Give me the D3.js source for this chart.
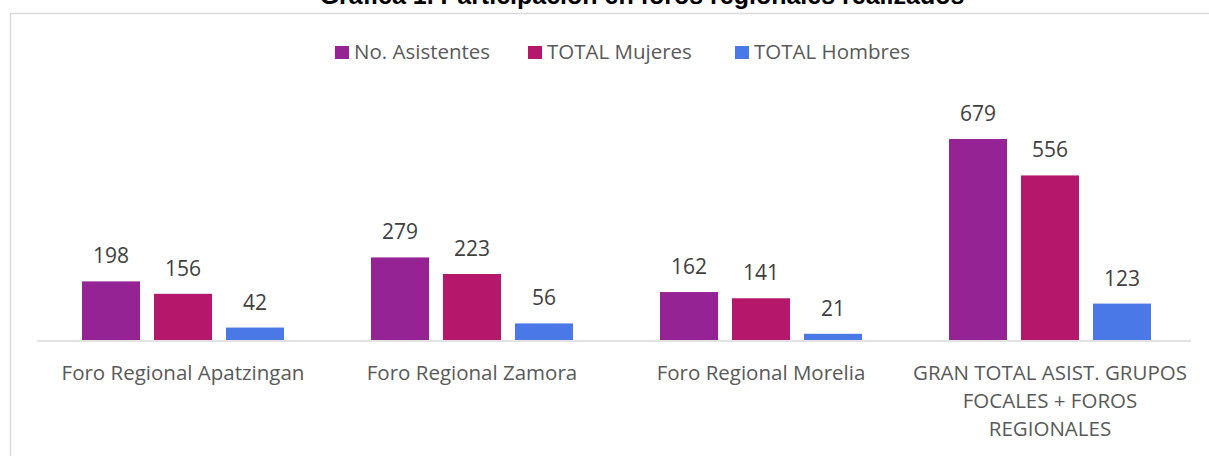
<!DOCTYPE html>
<html>
<head>
<meta charset="utf-8">
<script src="https://cdn.jsdelivr.net/npm/d3@7"></script>
<style>
  body { margin: 0; background: #fff; }
  svg { display: block; font-family: "Open Sans", "Noto Sans", sans-serif; }
</style>
</head>
<body>
<svg id="chart" width="1209" height="456"></svg>
<script>
const categories = [
  "Foro Regional Apatzingan",
  "Foro Regional Zamora",
  "Foro Regional Morelia",
  "GRAN TOTAL ASIST. GRUPOS FOCALES + FOROS REGIONALES"
];
const categoryLines = [
  ["Foro Regional Apatzingan"],
  ["Foro Regional Zamora"],
  ["Foro Regional Morelia"],
  ["GRAN TOTAL ASIST. GRUPOS", "FOCALES + FOROS", "REGIONALES"]
];
const seriesNames = ["No. Asistentes", "TOTAL Mujeres", "TOTAL Hombres"];
const asistentes = [198, 279, 162, 679];
const mujeres = [156, 223, 141, 556];
const hombres = [42, 56, 21, 123];
const seriesColors = ["#952393", "#b5186b", "#4a78e6"];

const seriesValues = [asistentes, mujeres, hombres];

const svg = d3.select("#chart");
const width = 1209, height = 456;

// outer frame of the chart area
svg.append("path")
  .attr("d", `M10.5,${height} V13.5 H${width}`)
  .attr("fill", "none")
  .attr("stroke", "#d9d9d9")
  .attr("stroke-width", 1.5);

// title, partially cut at the top
svg.append("text")
  .attr("x", 642)
  .attr("y", 4)
  .attr("text-anchor", "middle")
  .style("font-family", "'Liberation Sans', Arial, sans-serif")
  .style("font-size", "25px")
  .style("font-weight", "bold")
  .attr("fill", "#000")
  .text("Gráfica 1. Participación en foros regionales realizados");

const x0 = d3.scaleBand().domain(categories).range([38.5, 1194.5]).paddingInner(0).paddingOuter(0);
const x1 = d3.scaleBand().domain(seriesNames).range([-101, 101]).paddingInner(0.194).paddingOuter(0);
const y = d3.scaleLinear().domain([0, 700]).range([340, 132.8]);

const rows = categories.map((c, i) => ({
  cat: c,
  values: seriesNames.map((s, j) => ({ series: s, value: seriesValues[j][i], color: seriesColors[j] }))
}));

const groups = svg.append("g").selectAll("g")
  .data(rows)
  .join("g")
  .attr("transform", d => `translate(${x0(d.cat) + x0.bandwidth() / 2},0)`);

groups.selectAll("rect")
  .data(d => d.values)
  .join("rect")
  .attr("x", d => x1(d.series))
  .attr("width", x1.bandwidth())
  .attr("y", d => y(d.value))
  .attr("height", d => y(0) - y(d.value))
  .attr("fill", d => d.color);

groups.selectAll("text.val")
  .data(d => d.values)
  .join("text")
  .attr("class", "val")
  .attr("x", d => x1(d.series) + x1.bandwidth() / 2)
  .attr("y", d => y(d.value) - 18)
  .attr("text-anchor", "middle")
  .style("font-size", "21px")
  .attr("fill", "#404040")
  .text(d => d.value);

// baseline
svg.append("line")
  .attr("x1", 37).attr("x2", 1191)
  .attr("y1", y(0) + 1).attr("y2", y(0) + 1)
  .attr("stroke", "#d9d9d9")
  .attr("stroke-width", 1.5);

// category labels
const xAxis = svg.append("g");
categories.forEach((c, i) => {
  const t = xAxis.append("text")
    .attr("x", x0(c) + x0.bandwidth() / 2)
    .attr("y", 380)
    .attr("text-anchor", "middle")
    .style("font-size", "20.5px")
    .attr("fill", "#595959");
  categoryLines[i].forEach((line, k) => {
    t.append("tspan")
      .attr("x", x0(c) + x0.bandwidth() / 2)
      .attr("dy", k === 0 ? 0 : 28)
      .text(line);
  });
});

// legend
const legendX = [335, 528, 735];
const legend = svg.append("g").selectAll("g")
  .data(seriesNames)
  .join("g")
  .attr("transform", (d, i) => `translate(${legendX[i]},46)`);
legend.append("rect")
  .attr("width", 14).attr("height", 13)
  .attr("fill", (d, i) => seriesColors[i]);
legend.append("text")
  .attr("x", 19).attr("y", 13)
  .style("font-size", "20.5px")
  .attr("fill", "#595959")
  .text(d => d);
</script>
</body>
</html>
